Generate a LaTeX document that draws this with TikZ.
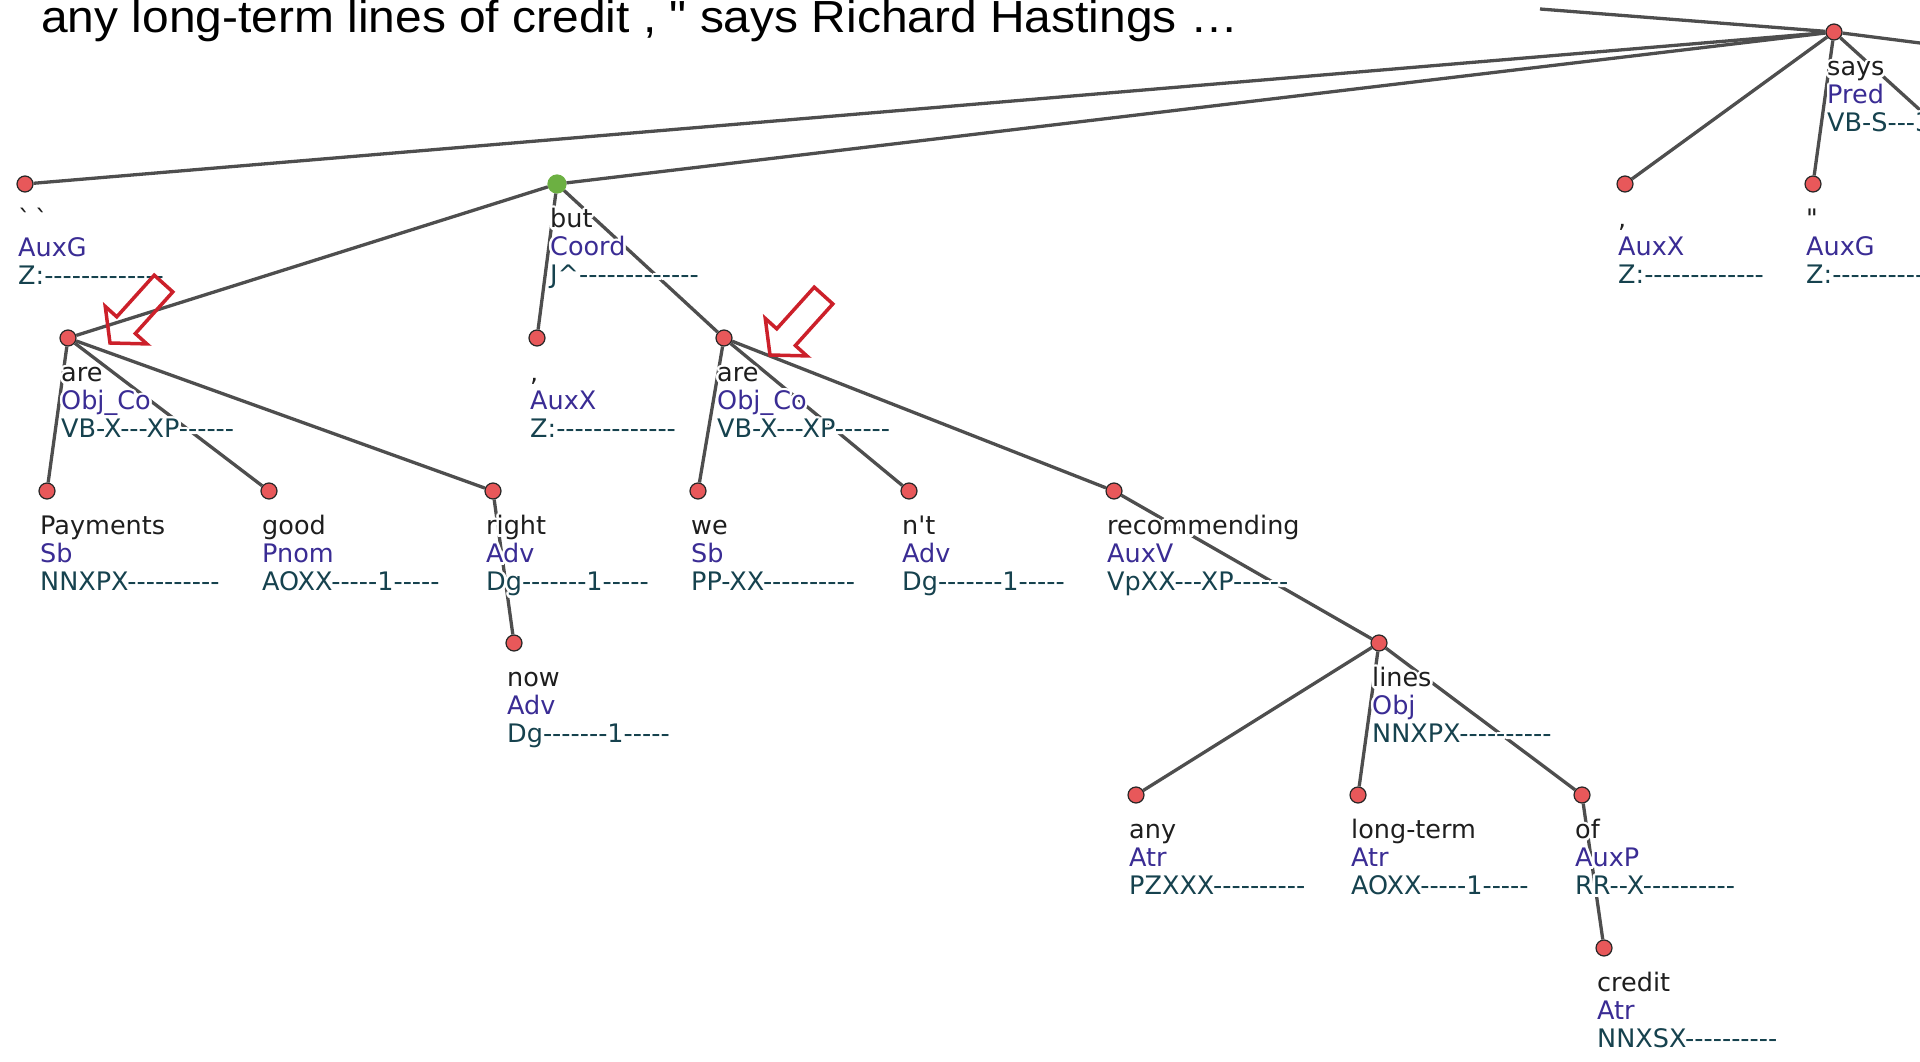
\documentclass[tikz,border=0pt]{standalone}
\usepackage{fontspec}
\usepackage[copies]{contour}
\newfontfamily\lblfont{DejaVu Sans}
\newfontfamily\topfont{Liberation Sans}
\definecolor{nodered}{RGB}{232,88,90}
\definecolor{nodegreen}{RGB}{108,176,66}
\definecolor{edgegray}{RGB}{78,78,78}
\definecolor{wordcol}{RGB}{30,30,30}
\definecolor{afuncol}{RGB}{58,44,148}
\definecolor{tagcol}{RGB}{22,66,78}
\definecolor{hintred}{RGB}{204,32,42}
\contourlength{2.5pt}
\newcommand\lbl[3]{\strut\textcolor{wordcol}{\contour{white}{#1}}\\\textcolor{afuncol}{\contour{white}{#2}}\\\textcolor{tagcol}{\contour{white}{#3}}}
\begin{document}
\begin{tikzpicture}[x=1pt,y=-1pt,
  tn/.style={circle,draw=black!85,fill=nodered,line width=1.2pt,minimum size=16pt,inner sep=0pt},
  cn/.style={tn,draw=nodegreen,fill=nodegreen,minimum size=18pt},
  edge/.style={draw=edgegray,line width=3.3pt},
  lb/.style={anchor=north west,inner sep=0pt,align=left,font=\lblfont\fontsize{25.5}{28}\selectfont},
  hint/.style={draw=hintred,line width=3.5pt,miter limit=10}]
\useasboundingbox (0,0) rectangle (1920,1062);
\node[anchor=base west,inner sep=0pt,font=\topfont\fontsize{45}{54}\selectfont] (sent) at (41,33)
  {\scalebox{1.065}[1]{any long-term lines of credit , " says Richard Hastings …}};
\node[tn] (says) at (1834,32) {};
\node[tn] (grave) at (25,184) {};
\node[cn] (but) at (557,184) {};
\node[tn] (comma2) at (1625,184) {};
\node[tn] (quote) at (1813,184) {};
\node[tn] (are1) at (68,338) {};
\node[tn] (comma1) at (537,338) {};
\node[tn] (are2) at (724,338) {};
\node[tn] (pay) at (47,491) {};
\node[tn] (good) at (269,491) {};
\node[tn] (right) at (493,491) {};
\node[tn] (we) at (698,491) {};
\node[tn] (nt) at (909,491) {};
\node[tn] (rec) at (1114,491) {};
\node[tn] (now) at (514,643) {};
\node[tn] (lines) at (1379,643) {};
\node[tn] (any) at (1136,795) {};
\node[tn] (long) at (1358,795) {};
\node[tn] (of) at (1582,795) {};
\node[tn] (credit) at (1604,948) {};
\coordinate (root) at (1540,9);
\coordinate (off1) at (1920,43);
\coordinate (off2) at (1920,110);
\draw[edge] (says) -- (root);
\draw[edge] (says) -- (off1);
\draw[edge] (says) -- (off2);
\draw[edge] (says) -- (grave);
\draw[edge] (says) -- (but);
\draw[edge] (says) -- (comma2);
\draw[edge] (says) -- (quote);
\draw[edge] (but) -- (are1);
\draw[edge] (but) -- (comma1);
\draw[edge] (but) -- (are2);
\draw[edge] (are1) -- (pay);
\draw[edge] (are1) -- (good);
\draw[edge] (are1) -- (right);
\draw[edge] (right) -- (now);
\draw[edge] (are2) -- (we);
\draw[edge] (are2) -- (nt);
\draw[edge] (are2) -- (rec);
\draw[edge] (rec) -- (lines);
\draw[edge] (lines) -- (any);
\draw[edge] (lines) -- (long);
\draw[edge] (lines) -- (of);
\draw[edge] (of) -- (credit);
\node[lb] (says-l) at (1827,56) {\lbl{says}{Pred}{VB-S---3}};
\node[lb] (grave-l) at (18,208) {\lbl{\symbol{96}\,\symbol{96}}{AuxG}{Z:-------------}};
\node[lb] (but-l) at (550,208) {\lbl{but}{Coord}{J\textasciicircum-------------}};
\node[lb] (comma2-l) at (1618,208) {\lbl{,}{AuxX}{Z:-------------}};
\node[lb] (quote-l) at (1806,208) {\lbl{\symbol{34}}{AuxG}{Z:-------------}};
\node[lb] (are1-l) at (61,362) {\lbl{are}{Obj\_Co}{VB-X---XP------}};
\node[lb] (comma1-l) at (530,362) {\lbl{,}{AuxX}{Z:-------------}};
\node[lb] (are2-l) at (717,362) {\lbl{are}{Obj\_Co}{VB-X---XP------}};
\node[lb] (pay-l) at (40,515) {\lbl{Payments}{Sb}{NNXPX----------}};
\node[lb] (good-l) at (262,515) {\lbl{good}{Pnom}{AOXX-----1-----}};
\node[lb] (right-l) at (486,515) {\lbl{right}{Adv}{Dg-------1-----}};
\node[lb] (we-l) at (691,515) {\lbl{we}{Sb}{PP-XX----------}};
\node[lb] (nt-l) at (902,515) {\lbl{n\symbol{39}t}{Adv}{Dg-------1-----}};
\node[lb] (rec-l) at (1107,515) {\lbl{recommending}{AuxV}{VpXX---XP------}};
\node[lb] (now-l) at (507,667) {\lbl{now}{Adv}{Dg-------1-----}};
\node[lb] (lines-l) at (1372,667) {\lbl{lines}{Obj}{NNXPX----------}};
\node[lb] (any-l) at (1129,819) {\lbl{any}{Atr}{PZXXX----------}};
\node[lb] (long-l) at (1351,819) {\lbl{long-term}{Atr}{AOXX-----1-----}};
\node[lb] (of-l) at (1575,819) {\lbl{of}{AuxP}{RR--X----------}};
\node[lb] (credit-l) at (1597,972) {\lbl{credit}{Atr}{NNXSX----------}};
\draw[hint,shift={(110,343)},rotate=228] (0,0) -- (-24,28) -- (-24,12.5) -- (-80,12.5) -- (-80,-12.5) -- (-24,-12.5) -- (-24,-28) -- cycle;
\draw[hint,shift={(770,355)},rotate=228] (0,0) -- (-24,28) -- (-24,12.5) -- (-80,12.5) -- (-80,-12.5) -- (-24,-12.5) -- (-24,-28) -- cycle;
\end{tikzpicture}
\end{document}
